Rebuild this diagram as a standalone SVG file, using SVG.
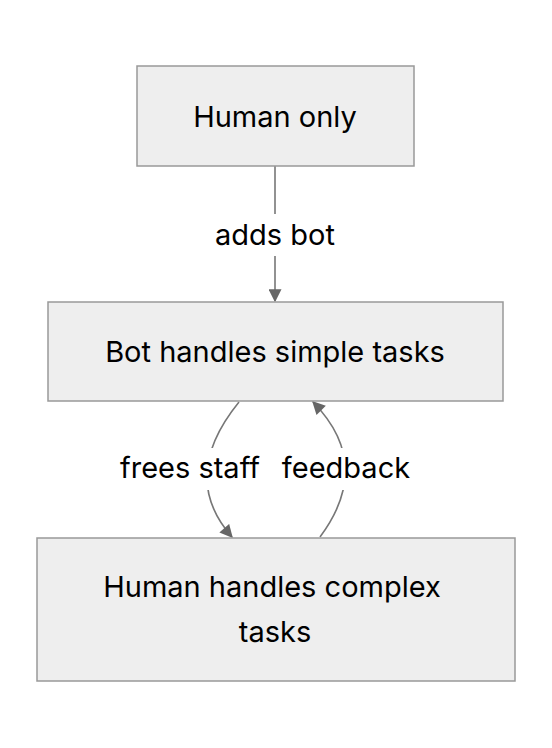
<svg xmlns="http://www.w3.org/2000/svg" width="552" height="748" viewBox="0 0 552 748">
<style>
.box{fill:#eeeeee;stroke:#999999;stroke-width:1.5}
.t{font-family:Inter,"Liberation Sans",sans-serif;font-size:29px;fill:#000;text-anchor:middle}
.e{fill:none;stroke:#777777;stroke-width:1.6}
.lb{fill:#ffffff}
</style>
<defs>
<marker id="ah" viewBox="0 0 10 10" refX="9" refY="5" markerWidth="14" markerHeight="13" markerUnits="userSpaceOnUse" orient="auto">
<path d="M0,0 L10,5 L0,10 z" fill="#666666"/>
</marker>
</defs>
<rect width="552" height="748" fill="#ffffff"/>
<g id="edges">
<path class="e" d="M275,166 L275,301" marker-end="url(#ah)"/>
<path class="e" d="M239,402 C200,450 195,495 232,537" marker-end="url(#ah)"/>
<path class="e" d="M320,537 C355,490 355,445 313,402" marker-end="url(#ah)"/>
<rect class="lb" x="205" y="214" width="140" height="42"/>
<rect class="lb" x="112" y="448" width="154" height="42"/>
<rect class="lb" x="276" y="448" width="140" height="42"/>
<text class="t" x="275" y="245">adds bot</text>
<text class="t" x="190" y="478">frees staff</text>
<text class="t" x="346" y="478">feedback</text>
</g>
<g id="n1">
<rect class="box" x="137" y="66" width="277" height="100"/>
<text class="t" x="275" y="127">Human only</text>
</g>
<g id="n2">
<rect class="box" x="48" y="302" width="455" height="99"/>
<text class="t" x="275" y="362">Bot handles simple tasks</text>
</g>
<g id="n3">
<rect class="box" x="37" y="538" width="478" height="143"/>
<text class="t" x="272" y="597">Human handles complex</text>
<text class="t" x="275" y="642">tasks</text>
</g>
</svg>
